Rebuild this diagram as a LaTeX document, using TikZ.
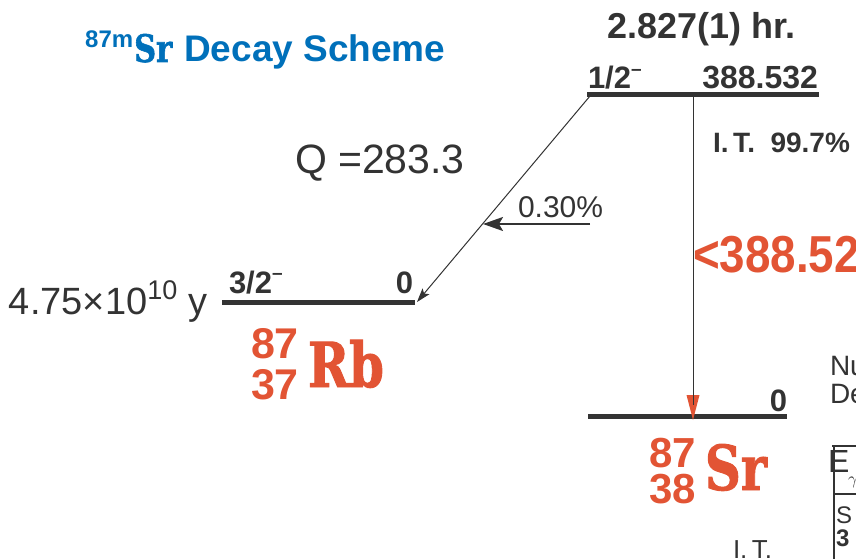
\documentclass[tikz,border=0pt]{standalone}
\usepackage{fontspec}
\setmainfont{Liberation Sans}
\newfontfamily\slabfont[FakeStretch=0.8,FakeBold=1.5]{DejaVu Serif}
\newfontfamily\narrowfont[FakeStretch=0.88]{Liberation Sans}
\usetikzlibrary{arrows.meta}
\definecolor{ink}{RGB}{51,51,51}
\definecolor{nucred}{RGB}{226,84,52}
\definecolor{titleblue}{RGB}{0,112,186}
\newcommand{\fs}[1]{\fontsize{#1}{#1}\selectfont}
\begin{document}
\begin{tikzpicture}[x=1pt,y=-1pt,
  txt/.style={inner sep=0pt,outer sep=0pt,text=ink},
  lvl/.style={line width=5pt,draw=ink},
  trans/.style={line width=1pt,draw=ink},
  red/.style={inner sep=0pt,outer sep=0pt,text=nucred},
  ]
\useasboundingbox (0,0) rectangle (856,559);
\clip (0,0) rectangle (856,559);
% title
\node[inner sep=0pt,anchor=base west,text=titleblue,font=\fs{24}\bfseries] (t87) at (85,48) {87m};
\node[inner sep=0pt,anchor=base west,text=titleblue,font=\fs{38}\slabfont\bfseries] (tsr) at (134,62) {Sr};
\node[inner sep=0pt,anchor=base west,text=titleblue,font=\fs{37}\bfseries] (tds) at (184,62) {Decay Scheme};
% half-life
\node[txt,anchor=base west,font=\fs{36}\bfseries] (hl) at (607,39) {2.827(1) hr.};
% levels
\coordinate (topL) at (587,94.5); \coordinate (topR) at (819,94.5);
\coordinate (rbL) at (222,302.5); \coordinate (rbR) at (415,302.5);
\coordinate (srL) at (588,416.5); \coordinate (srR) at (787,416.5);
\draw[lvl] (topL) -- (topR);
\draw[lvl] (rbL) -- (rbR);
\draw[lvl] (srL) -- (srR);
\node[txt,anchor=base west,font=\fs{31}\bfseries] (js1) at (588,89) {1/2\raisebox{0.42em}{\fs{19}\textendash}};
\node[txt,anchor=base east,font=\fs{32}\bfseries] (e1) at (818,89) {388.532};
\node[txt,anchor=base west,font=\fs{31}\bfseries] (js0) at (229,293) {3/2\raisebox{0.42em}{\fs{19}\textendash}};
\node[txt,anchor=base east,font=\fs{31}\bfseries] (e0) at (413,293) {0};
\node[txt,anchor=base east,font=\fs{31}\bfseries] (es) at (787,411) {0};
% texts
\node[txt,anchor=base west,font=\fs{28}\bfseries] (it) at (713,153) {I.\,T.\ \ 99.7\%};
\node[red,anchor=base west,font=\fs{52}\narrowfont\bfseries] (eg) at (693,272) {<388.52};
\node[txt,anchor=base west,font=\fs{41}] (q) at (295,173) {Q =283.3};
\node[txt,anchor=base west,font=\fs{30}] (br) at (518,217) {0.30\%};
\node[txt,anchor=base west,font=\fs{38}] (hlrb) at (9,314) {4.75\texttimes10\raisebox{0.38em}{\fs{27}10} y};
% transitions
\coordinate (dstart) at (590,96);
\coordinate (dend) at (417,302);
\draw[trans,-{Stealth[length=14pt,width=9pt,inset=3pt]}] (dstart) -- (dend);
\coordinate (hstart) at (590,224);
\coordinate (hend) at (483,224);
\draw[line width=2pt,draw=ink,-{Stealth[length=20pt,width=14pt,inset=4pt]}] (hstart) -- (hend);
\coordinate (vstart) at (693,97);
\coordinate (vend) at (693,420);
\draw[trans] (vstart) -- (693,400);
\fill[nucred] (686.5,395) -- (699.5,395) -- (vend) -- cycle;
\draw[trans] (693,395) -- (693,405);
% nuclide labels
\node[red,anchor=base west,align=left,font=\fontsize{43}{41}\selectfont\bfseries] (rbAZ) at (251,399) {87\\37};
\node[red,anchor=base west,font=\fs{62}\slabfont\bfseries] (rb) at (308,387) {Rb};
\node[red,anchor=base west,align=left,font=\fontsize{42}{36}\selectfont\bfseries] (srAZ) at (649,503) {87\\38};
\node[red,anchor=base west,font=\fs{62}\slabfont\bfseries] (sr) at (705,490) {Sr};
% right-edge fragments
\node[txt,anchor=base west,font=\fs{28}] (nu) at (830,375) {Nuclear};
\node[txt,anchor=base west,font=\fs{28}] (de) at (830,403) {Decay};
\coordinate (tbTL) at (832,446); \coordinate (tbTR) at (870,446);
\coordinate (tbL) at (834,446); \coordinate (tbB) at (834,570);
\coordinate (tbML) at (834,494); \coordinate (tbMR) at (870,494);
\draw[line width=2pt,draw=ink] (tbTL) -- (tbTR);
\draw[line width=2pt,draw=ink] (tbL) -- (tbB);
\draw[line width=1.2pt,draw=ink] (tbML) -- (tbMR);
\node[txt,anchor=base west,font=\fs{32}] (eh) at (828,472) {E};
\node[txt,anchor=base west,font=\fs{18}] (gam) at (848,484) {$\gamma$};
\node[txt,anchor=base west,font=\fs{24}] (s1) at (836,523) {S};
\node[txt,anchor=base west,font=\fs{24}\bfseries] (s3) at (836,546) {3};
\node[txt,anchor=base west,font=\fs{26}] (it2) at (733,558) {I.\,T.};
\end{tikzpicture}
\end{document}
